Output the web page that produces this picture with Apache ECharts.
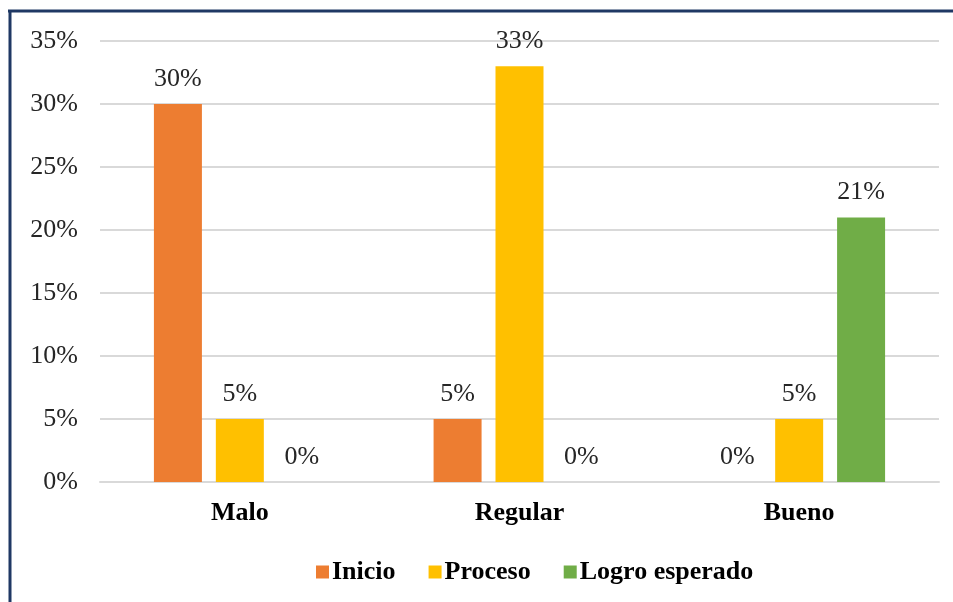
<!DOCTYPE html>
<html>
<head>
<meta charset="utf-8">
<script src="https://cdn.jsdelivr.net/npm/echarts@6/dist/echarts.min.js"></script>
<style>
html,body{margin:0;padding:0;background:#fff;}
#chart{width:953px;height:602px;}
</style>
</head>
<body>
<div id="chart"></div>
<script>
const categories = ['Malo', 'Regular', 'Bueno'];
const seriesNames = ['Inicio', 'Proceso', 'Logro esperado'];
const inicio = [30, 5, 0];
const proceso = [5, 33, 5];
const logro = [0, 0, 21];
const colors = ['#ED7D31', '#FFC000', '#70AD47'];

const chart = echarts.init(document.getElementById('chart'));
const font = 'Liberation Serif';
function mk(name, data, color) {
  return {
    name: name, type: 'bar', data: data, barWidth: 48, barGap: '29%',
    itemStyle: { color: color },
    label: { show: true, position: 'top', distance: 12, formatter: '{c}%',
             fontFamily: font, fontSize: 26, color: '#262626' }
  };
}
chart.setOption({
  animation: false,
  backgroundColor: '#fff',
  textStyle: { fontFamily: font },
  graphic: [
    { type: 'line', shape: { x1: 8, y1: 11, x2: 953, y2: 11 }, style: { stroke: '#1F3864', lineWidth: 3 } },
    { type: 'line', shape: { x1: 10, y1: 10, x2: 10, y2: 602 }, style: { stroke: '#1F3864', lineWidth: 3 } }
  ],
  grid: { left: 100, right: 14, top: 41, bottom: 120, containLabel: false },
  legend: {
    data: seriesNames, bottom: 12, left: 311, itemWidth: 13, itemHeight: 13, itemGap: 33,
    icon: 'rect',
    textStyle: { fontFamily: font, fontSize: 26, fontWeight: 'bold', color: '#000', padding: [0,0,0,-2] }
  },
  xAxis: {
    type: 'category', data: categories,
    axisLine: { show: true, lineStyle: { color: '#d9d9d9', width: 2 } },
    axisTick: { show: false },
    axisLabel: { fontFamily: font, fontSize: 26, fontWeight: 'bold', color: '#000', margin: 18 }
  },
  yAxis: {
    type: 'value', min: 0, max: 35, interval: 5,
    axisLine: { show: false }, axisTick: { show: false },
    splitLine: { lineStyle: { color: '#d9d9d9', width: 2 } },
    axisLabel: { formatter: '{value}%', fontFamily: font, fontSize: 26, color: '#262626', margin: 22 }
  },
  series: [mk(seriesNames[0], inicio, colors[0]), mk(seriesNames[1], proceso, colors[1]), mk(seriesNames[2], logro, colors[2])]
});
</script>
</body>
</html>
